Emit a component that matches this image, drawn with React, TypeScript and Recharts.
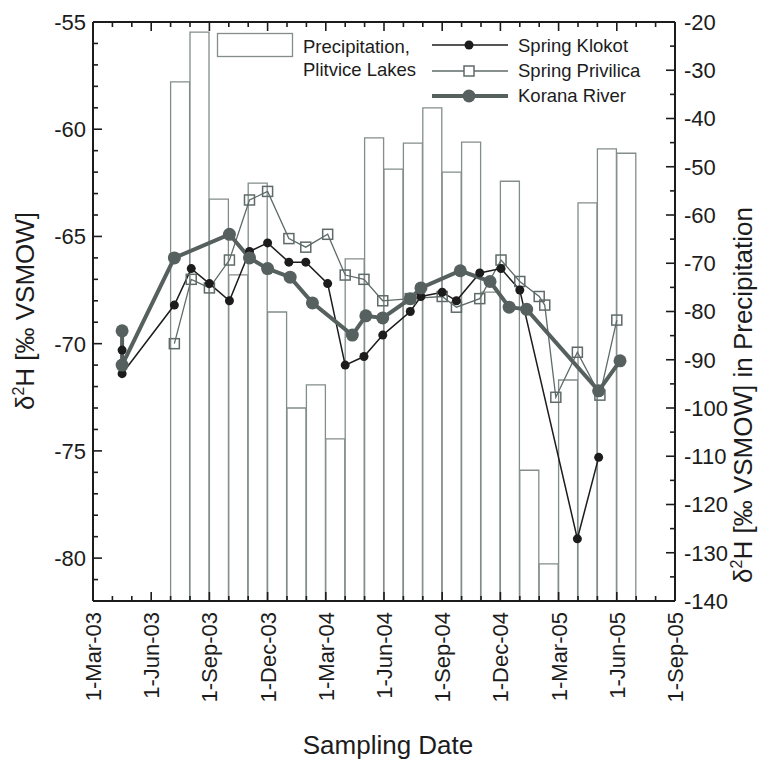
import { Bar, ComposedChart, Legend, Line, XAxis, YAxis } from "recharts";

const FONT = '"Liberation Sans", Arial, Helvetica, sans-serif';
const INK = "#1c1c1c";
const KORANA = "#56605e";
const PRIVILICA = "#5f6b69";
const BAR_EDGE = "#838d8b";

// layout
const CHART_W = 760;
const CHART_H = 763;
const PLOT_TOP = 22;
const LEFT_W = 93;
const RIGHT_W = 85;
const BOTTOM_H = 162;

// x axis: months counted from 1-Mar-03, a label every third month
const X_LABELS = [
  "1-Mar-03", "1-Jun-03", "1-Sep-03", "1-Dec-03", "1-Mar-04", "1-Jun-04",
  "1-Sep-04", "1-Dec-04", "1-Mar-05", "1-Jun-05", "1-Sep-05",
];
const LEFT_LABELS = [-80, -75, -70, -65, -60, -55];
const RIGHT_LABELS = [-140, -130, -120, -110, -100, -90, -80, -70, -60, -50, -40, -30, -20];

const X_DOMAIN: [number, number] = [0, 30];
const LEFT_DOMAIN: [number, number] = [-82, -55];
const RIGHT_DOMAIN: [number, number] = [-140, -20];

// monthly precipitation, Plitvice Lakes (right axis)
const PRECIP_MONTHS = [
  "2003-07", "2003-08", "2003-09", "2003-10", "2003-11", "2003-12",
  "2004-01", "2004-02", "2004-03", "2004-04", "2004-05", "2004-06",
  "2004-07", "2004-08", "2004-09", "2004-10", "2004-11", "2004-12",
  "2005-01", "2005-02", "2005-03", "2005-04", "2005-05", "2005-06",
];
const PRECIP_D2H = [
  -32.4, -22.1, -56.7, -72.4, -53.4, -80.1,
  -100.0, -95.2, -106.4, -69.1, -44.0, -50.5,
  -45.1, -37.8, -51.1, -44.9, -76.0, -53.0,
  -112.9, -132.3, -94.2, -57.5, -46.3, -47.2,
];

const KLOKOT_DATES = [
  "2003-04-16", "2003-04-16", "2003-07-07", "2003-08-03", "2003-09-01", "2003-10-02",
  "2003-11-03", "2003-12-01", "2004-01-04", "2004-01-31", "2004-03-04", "2004-04-01",
  "2004-04-30", "2004-05-30", "2004-07-12", "2004-07-29", "2004-09-01", "2004-09-23",
  "2004-10-30", "2004-12-02", "2005-01-01", "2005-03-31", "2005-05-03",
];
const KLOKOT_D2H = [
  -70.3, -71.4, -68.2, -66.5, -67.2, -68.0,
  -65.7, -65.3, -66.2, -66.2, -67.2, -71.0,
  -70.6, -69.6, -68.5, -67.8, -67.6, -68.0,
  -66.7, -66.5, -67.5, -79.1, -75.3,
];

const PRIVILICA_DATES = [
  "2003-07-07", "2003-08-03", "2003-09-01", "2003-10-02", "2003-11-03", "2003-12-01",
  "2004-01-04", "2004-01-31", "2004-03-04", "2004-04-01", "2004-04-30", "2004-05-30",
  "2004-07-12", "2004-09-01", "2004-09-23", "2004-10-30", "2004-12-02", "2005-01-01",
  "2005-02-01", "2005-02-09", "2005-02-25", "2005-03-31", "2005-05-05", "2005-06-01",
];
const PRIVILICA_D2H = [
  -70.0, -67.0, -67.4, -66.1, -63.3, -62.9,
  -65.1, -65.5, -64.9, -66.8, -67.0, -68.0,
  -67.9, -67.8, -68.3, -67.9, -66.1, -67.1,
  -67.8, -68.2, -72.5, -70.4, -72.4, -68.9,
];

const KORANA_DATES = [
  "2003-04-16", "2003-04-16", "2003-07-07", "2003-10-02", "2003-11-03", "2003-12-01",
  "2004-01-06", "2004-02-10", "2004-04-12", "2004-05-03", "2004-05-30", "2004-07-12",
  "2004-07-29", "2004-09-29", "2004-11-15", "2004-12-15", "2005-01-12", "2005-05-03",
  "2005-06-06",
];
const KORANA_D2H = [
  -69.4, -71.0, -66.0, -64.9, -66.0, -66.5,
  -66.9, -68.1, -69.6, -68.7, -68.8, -67.9,
  -67.4, -66.6, -67.1, -68.3, -68.4, -72.2,
  -70.8,
];

// date string -> months since 1-Mar-03
function toMonth(date: string) {
  const [y, m, d] = date.split("-").map(Number);
  const daysInMonth = new Date(Date.UTC(y, m, 0)).getUTCDate();
  return (y - 2003) * 12 + (m - 3) + (d - 1) / daysInMonth;
}

const series = (dates: string[], values: number[]) =>
  dates.map((d, i) => ({ m: toMonth(d), v: values[i] }));

const klokot = series(KLOKOT_DATES, KLOKOT_D2H);
const privilica = series(PRIVILICA_DATES, PRIVILICA_D2H);
const korana = series(KORANA_DATES, KORANA_D2H);
// bars run from the bottom of the right axis up to the monthly value
const precip = PRECIP_MONTHS.map((ym, i) => ({
  m: toMonth(`${ym}-01`) + 0.5,
  p: [RIGHT_DOMAIN[0], PRECIP_D2H[i]],
}));

const range = (a: number, b: number, step: number) => {
  const out: number[] = [];
  for (let v = a; v <= b; v += step) out.push(v);
  return out;
};
const MONTH_TICKS = range(X_DOMAIN[0], X_DOMAIN[1], 1);
const LEFT_TICKS = range(LEFT_DOMAIN[0], LEFT_DOMAIN[1], 1);
const RIGHT_TICKS = range(RIGHT_DOMAIN[0], RIGHT_DOMAIN[1], 5);
// top frame of the box, one point per month tick
const topFrame = MONTH_TICKS.map((m) => ({ m, v: LEFT_DOMAIN[1] }));

const tickText = { fontFamily: FONT, fontSize: 22, fill: INK };

function BottomTick({ x, y, payload }: any) {
  const major = payload.value % 3 === 0;
  return (
    <g>
      <line x1={x} x2={x} y1={y} y2={y - (major ? 9 : 5)} stroke={INK} strokeWidth={1.6} />
      {major && (
        <text
          transform={`translate(${x + 8},${y + 11}) rotate(-90)`}
          textAnchor="end"
          {...tickText}
        >
          {X_LABELS[payload.value / 3]}
        </text>
      )}
    </g>
  );
}

function TopTickDot({ cx, cy, payload }: any) {
  if (cx == null || cy == null) return null;
  const major = payload.m % 3 === 0;
  return <line x1={cx} x2={cx} y1={cy} y2={cy + (major ? 9 : 5)} stroke={INK} strokeWidth={1.6} />;
}

function LeftTick({ x, y, payload }: any) {
  const major = LEFT_LABELS.includes(payload.value);
  return (
    <g>
      <line x1={x} x2={x + (major ? 9 : 5)} y1={y} y2={y} stroke={INK} strokeWidth={1.6} />
      {major && (
        <text x={x - 7} y={y} dy="0.36em" textAnchor="end" {...tickText}>
          {payload.value}
        </text>
      )}
    </g>
  );
}

function RightTick({ x, y, payload }: any) {
  const major = RIGHT_LABELS.includes(payload.value);
  return (
    <g>
      <line x1={x} x2={x - (major ? 9 : 5)} y1={y} y2={y} stroke={INK} strokeWidth={1.6} />
      {major && (
        <text x={x + 9} y={y} dy="0.36em" textAnchor="start" {...tickText}>
          {payload.value}
        </text>
      )}
    </g>
  );
}

const titleText = { fontFamily: FONT, fontSize: 26, fill: INK };

function D2H() {
  return (
    <>
      δ
      <tspan fontSize={16} dy={-10}>2</tspan>
      <tspan dy={10}>H [‰ VSMOW]</tspan>
    </>
  );
}

function LeftTitle() {
  return (
    <text transform="translate(34,311) rotate(-90)" textAnchor="middle" {...titleText}>
      <D2H />
    </text>
  );
}

function RightTitle() {
  return (
    <text transform="translate(752,395) rotate(-90)" textAnchor="middle" {...titleText}>
      <D2H /> in Precipitation
    </text>
  );
}

function BottomTitle() {
  return (
    <text x={388} y={754} textAnchor="middle" {...titleText}>
      Sampling Date
    </text>
  );
}

function SquareDot({ cx, cy }: any) {
  if (cx == null || cy == null) return null;
  return (
    <rect x={cx - 5} y={cy - 5} width={10} height={10} fill="none" stroke={PRIVILICA} strokeWidth={1.5} />
  );
}

const legendText = { fontFamily: FONT, fontSize: 18.5, fill: INK };

function LegendBox() {
  return (
    <svg width={CHART_W} height={120} style={{ display: "block" }}>
      {/* top edge of the frame */}
      <line x1={LEFT_W} x2={CHART_W - RIGHT_W} y1={PLOT_TOP} y2={PLOT_TOP} stroke={INK} strokeWidth={2} />

      <rect x={217.5} y={33.5} width={75} height={23} fill="#fff" stroke={BAR_EDGE} strokeWidth={1.3} />
      <text x={303} y={53} {...legendText}>Precipitation,</text>
      <text x={303} y={76} {...legendText}>Plitvice Lakes</text>

      <line x1={432} x2={508} y1={45} y2={45} stroke={INK} strokeWidth={1.5} />
      <circle cx={469} cy={45} r={4.5} fill={INK} />
      <text x={518} y={52} {...legendText}>Spring Klokot</text>

      <line x1={432} x2={508} y1={71} y2={71} stroke={PRIVILICA} strokeWidth={1.3} />
      <rect x={464} y={66} width={10} height={10} fill="#fff" stroke={PRIVILICA} strokeWidth={1.5} />
      <text x={518} y={77} {...legendText}>Spring Privilica</text>

      <line x1={432} x2={508} y1={96} y2={96} stroke={KORANA} strokeWidth={4} />
      <circle cx={469} cy={96} r={6.5} fill={KORANA} />
      <text x={518} y={102} {...legendText}>Korana River</text>
    </svg>
  );
}

export default function App() {
  return (
    <div style={{ position: "absolute", left: 0, top: 0, width: CHART_W, height: CHART_H, background: "#fff" }}>
      <ComposedChart
        width={CHART_W}
        height={CHART_H}
        data={precip}
        margin={{ top: PLOT_TOP, right: 0, bottom: 0, left: 0 }}
        barCategoryGap={0}
        barGap={0}
      >
        <XAxis
          xAxisId="main"
          type="number"
          dataKey="m"
          domain={X_DOMAIN}
          ticks={MONTH_TICKS}
          interval={0}
          height={BOTTOM_H}
          tickSize={0}
          tickMargin={0}
          tickLine={false}
          tick={<BottomTick />}
          axisLine={{ stroke: INK, strokeWidth: 2 }}
          label={<BottomTitle />}
        />
        {/* carries only the monthly bars, so their width is one month */}
        <XAxis
          xAxisId="bars"
          type="number"
          dataKey="m"
          domain={X_DOMAIN}
          allowDataOverflow
          height={0}
          hide
        />
        <YAxis
          yAxisId="left"
          type="number"
          domain={LEFT_DOMAIN}
          ticks={LEFT_TICKS}
          interval={0}
          width={LEFT_W}
          tickSize={0}
          tickMargin={0}
          tickLine={false}
          tick={<LeftTick />}
          axisLine={{ stroke: INK, strokeWidth: 2 }}
          label={<LeftTitle />}
        />
        <YAxis
          yAxisId="right"
          orientation="right"
          type="number"
          domain={RIGHT_DOMAIN}
          allowDataOverflow
          ticks={RIGHT_TICKS}
          interval={0}
          width={RIGHT_W}
          tickSize={0}
          tickMargin={0}
          tickLine={false}
          tick={<RightTick />}
          axisLine={{ stroke: INK, strokeWidth: 2 }}
          label={<RightTitle />}
        />

        <Bar
          xAxisId="bars"
          yAxisId="right"
          dataKey="p"
          fill="#fff"
          stroke={BAR_EDGE}
          strokeWidth={1.3}
          isAnimationActive={false}
        />
        <Line
          data={privilica}
          xAxisId="main"
          yAxisId="left"
          dataKey="v"
          type="linear"
          stroke={PRIVILICA}
          strokeWidth={1.3}
          dot={<SquareDot />}
          activeDot={false}
          isAnimationActive={false}
        />
        <Line
          data={klokot}
          xAxisId="main"
          yAxisId="left"
          dataKey="v"
          type="linear"
          stroke={INK}
          strokeWidth={1.5}
          dot={{ r: 4.5, fill: INK, stroke: "none" }}
          activeDot={false}
          isAnimationActive={false}
        />
        <Line
          data={korana}
          xAxisId="main"
          yAxisId="left"
          dataKey="v"
          type="linear"
          stroke={KORANA}
          strokeWidth={4}
          dot={{ r: 6.5, fill: KORANA, stroke: "none" }}
          activeDot={false}
          isAnimationActive={false}
        />
        <Line
          data={topFrame}
          xAxisId="main"
          yAxisId="left"
          dataKey="v"
          type="linear"
          stroke={INK}
          strokeWidth={2}
          dot={<TopTickDot />}
          activeDot={false}
          legendType="none"
          isAnimationActive={false}
        />

        <Legend
          layout="vertical"
          align="center"
          verticalAlign="middle"
          content={<LegendBox />}
          wrapperStyle={{ left: 0, top: 0, width: CHART_W, height: 120 }}
        />
      </ComposedChart>
    </div>
  );
}
